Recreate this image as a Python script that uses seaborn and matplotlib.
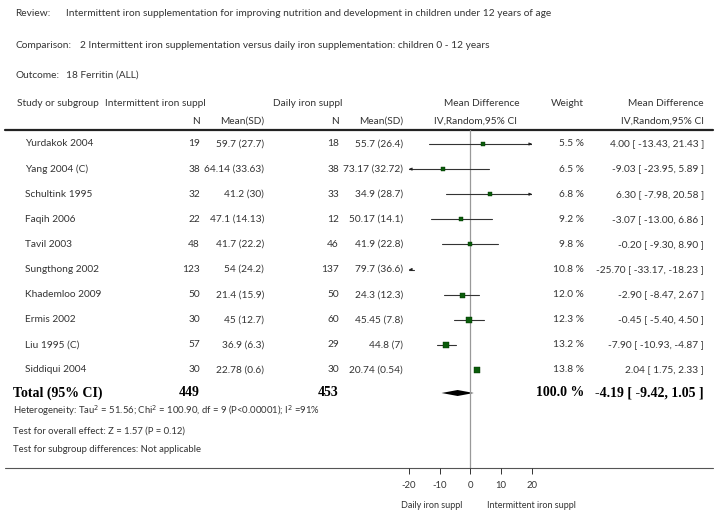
import matplotlib
matplotlib.use("Agg")
import matplotlib.pyplot as plt
import seaborn as sns
import numpy as np

sns.set_theme(style="white")
plt.rcParams['font.family'] = ['Lato', 'DejaVu Sans']

studies = ["Yurdakok 2004", "Yang 2004 (C)", "Schultink 1995", "Faqih 2006", "Tavil 2003",
           "Sungthong 2002", "Khademloo 2009", "Ermis 2002", "Liu 1995 (C)", "Siddiqui 2004"]
n_int = [19, 38, 32, 22, 48, 123, 50, 30, 57, 30]
ms_int = ["59.7 (27.7)", "64.14 (33.63)", "41.2 (30)", "47.1 (14.13)", "41.7 (22.2)",
          "54 (24.2)", "21.4 (15.9)", "45 (12.7)", "36.9 (6.3)", "22.78 (0.6)"]
n_day = [18, 38, 33, 12, 46, 137, 50, 60, 29, 30]
ms_day = ["55.7 (26.4)", "73.17 (32.72)", "34.9 (28.7)", "50.17 (14.1)", "41.9 (22.8)",
          "79.7 (36.6)", "24.3 (12.3)", "45.45 (7.8)", "44.8 (7)", "20.74 (0.54)"]
weights = [5.5, 6.5, 6.8, 9.2, 9.8, 10.8, 12.0, 12.3, 13.2, 13.8]
md = [4.00, -9.03, 6.30, -3.07, -0.20, -25.70, -2.90, -0.45, -7.90, 2.04]
lo = [-13.43, -23.95, -7.98, -13.00, -9.30, -33.17, -8.47, -5.40, -10.93, 1.75]
hi = [21.43, 5.89, 20.58, 6.86, 8.90, -18.23, 2.67, 4.50, -4.87, 2.33]
total_md, total_lo, total_hi = -4.19, -9.42, 1.05
ticks = [-20, -10, 0, 10, 20]

W, H = 718, 513
fig = plt.figure(figsize=(W/100, H/100), dpi=100)
bg = fig.add_axes([0, 0, 1, 1])
bg.set_xlim(0, W); bg.set_ylim(H, 0); bg.axis("off")

fs = 7.3
col = "#333333"
def t(x, y, s, ha="left", **kw):
    kw.setdefault("fontsize", fs); kw.setdefault("color", col)
    bg.text(x, y, s, ha=ha, va="center", **kw)

t(15, 13, "Review:"); t(66, 13, "Intermittent iron supplementation for improving nutrition and development in children under 12 years of age")
t(15, 45, "Comparison:"); t(80, 45, "2 Intermittent iron supplementation versus daily iron supplementation: children 0 - 12 years")
t(15, 75, "Outcome:"); t(66, 75, "18 Ferritin (ALL)")

t(17, 103, "Study or subgroup"); t(105, 103, "Intermittent iron suppl"); t(273, 103, "Daily iron suppl")
t(200, 121, "N", "right"); t(264, 121, "Mean(SD)", "right")
t(339, 121, "N", "right"); t(403, 121, "Mean(SD)", "right")
t(482, 103, "Mean Difference", "center"); t(476, 121, "IV,Random,95% CI", "center")
t(584, 103, "Weight", "right")
t(704, 103, "Mean Difference", "right"); t(704, 121, "IV,Random,95% CI", "right")
bg.plot([5, 713], [129.5, 129.5], color="#222222", lw=1.6)
bg.plot([5, 713], [467.5, 467.5], color="#555555", lw=0.8)

rows_y = [144 + 25.1*i for i in range(len(studies))]
for i, y in enumerate(rows_y):
    t(25, y, studies[i]); t(200, y, str(n_int[i]), "right"); t(264, y, ms_int[i], "right")
    t(339, y, str(n_day[i]), "right"); t(403, y, ms_day[i], "right")
    t(584, y, f"{weights[i]:.1f} %", "right")
    t(704, y, f"{md[i]:.2f} [ {lo[i]:.2f}, {hi[i]:.2f} ]", "right")

ty = 393
sb = dict(fontsize=10, fontweight="bold", color="black", family=["Liberation Serif"])
t(13, ty, "Total (95% CI)", **sb); t(200, ty, "449", "right", **sb); t(339, ty, "453", "right", **sb)
t(584, ty, "100.0 %", "right", **sb); t(704, ty, "-4.19 [ -9.42, 1.05 ]", "right", **sb)
t(13, 411, "Heterogeneity: Tau$^2$ = 51.56; Chi$^2$ = 100.90, df = 9 (P<0.00001); I$^2$ =91%", fontsize=6.8)
t(13, 431, "Test for overall effect: Z = 1.57 (P = 0.12)", fontsize=6.8)
t(13, 449, "Test for subgroup differences: Not applicable", fontsize=6.8)
t(432, 505, "Daily iron suppl", "center", fontsize=6.5)
t(487, 505, "Intermittent iron suppl", fontsize=6.5)

# forest axes: x -20..20 at pixels 409..532, y in pixel rows 130..467
x0, x1 = 409, 532
ax = fig.add_axes([x0/W, 1-467.5/H, (x1-x0)/W, (467.5-130)/H])
ax.set_xlim(-20, 20); ax.set_ylim(467.5, 130)
ax.patch.set_alpha(0)
for s in ["top", "right", "left", "bottom"]:
    ax.spines[s].set_visible(False)
ax.axvline(0, color="#999999", lw=0.9)
ax.set_yticks([])
ax.set_xticks(ticks)
ax.set_xticklabels([str(v) for v in ticks], fontsize=6.8, color=col)
ax.tick_params(axis="x", bottom=True, length=4, width=0.7, color="#333333", pad=6)

for i, y in enumerate(rows_y):
    a, b = max(lo[i], -20), min(hi[i], 20)
    ax.plot([a, b], [y, y], color="#333333", lw=0.8)
    if lo[i] < -20:
        ax.annotate("", xy=(-20, y), xytext=(-18.5, y),
                    arrowprops=dict(arrowstyle="-|>", color="#222222", lw=0.6, mutation_scale=4))
    if hi[i] > 20:
        ax.annotate("", xy=(20, y), xytext=(18.5, y),
                    arrowprops=dict(arrowstyle="-|>", color="#222222", lw=0.6, mutation_scale=4))
    if -20 <= md[i] <= 20:
        ax.plot(md[i], y, marker="s", color="#0a5c0a", ms=2.4 + 0.1*weights[i], mec="#003300", mew=0.3)

ax.fill([total_lo, total_md, total_hi, total_md], [ty, ty-3, ty, ty+3], color="black", lw=0)

fig.savefig("out.png", dpi=100)
